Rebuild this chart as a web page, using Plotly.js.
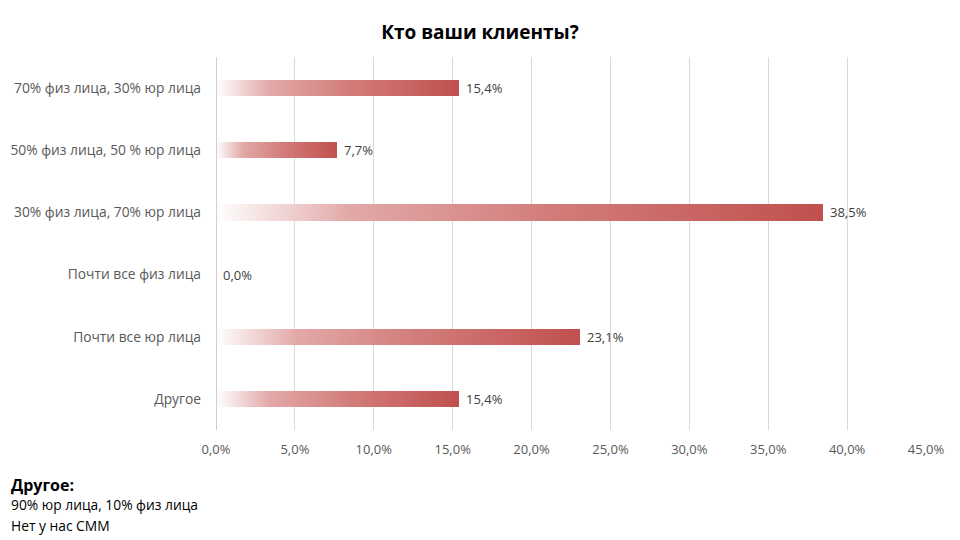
<!DOCTYPE html>
<html>
<head>
<meta charset="utf-8">
<script src="https://cdn.plot.ly/plotly-3.0.1.min.js"></script>
<style>
  html, body { margin: 0; padding: 0; background: #fff; }
  #chart { width: 960px; height: 540px; }
</style>
</head>
<body>
<div id="chart"></div>
<script>
const categories = [
  '70% физ лица, 30% юр лица',
  '50% физ лица, 50 % юр лица',
  '30% физ лица, 70% юр лица',
  'Почти все физ лица',
  'Почти все юр лица',
  'Другое',
];
const shares = [15.4, 7.7, 38.5, 0.0, 23.1, 15.4];
const tickValues = [0, 5, 10, 15, 20, 25, 30, 35, 40, 45];
const tickLabels = tickValues.map((v) => v.toFixed(1).replace('.', ',') + '%');
const noteTitle = 'Другое:';
const noteLines = ['90% юр лица, 10% физ лица', 'Нет у нас СММ'];

const FONT = 'Open Sans, Lato, sans-serif';
const pct = (v) => v.toFixed(1).replace('.', ',') + '%';

// plot area in pixels, used to place the notes below the axis
const PLOT = { l: 216, r: 34, t: 57, b: 110 };
const plotW = 960 - PLOT.l - PLOT.r;
const plotH = 540 - PLOT.t - PLOT.b;
const px2x = (px) => (px - PLOT.l) / plotW;
const px2y = (py) => (540 - PLOT.b - py) / plotH;

const trace = {
  type: 'bar',
  orientation: 'h',
  x: shares,
  y: categories,
  width: 0.26,
  marker: { color: '#C0504D', line: { width: 0 } },
  hoverinfo: 'none',
};

// value labels just right of each bar end
const valueLabels = shares.map((v, i) => ({
  text: pct(v),
  xref: 'x', yref: 'y', x: v, y: categories[i],
  xanchor: 'left', yanchor: 'middle', xshift: 5, yshift: 0,
  showarrow: false,
  font: { family: FONT, size: 13, color: '#404040' },
}));

const layout = {
  width: 960,
  height: 540,
  margin: PLOT,
  paper_bgcolor: '#fff',
  plot_bgcolor: '#fff',
  showlegend: false,
  bargap: 0,
  title: {
    text: '<b>Кто ваши клиенты?</b>',
    font: { family: FONT, size: 19, color: '#000' },
    x: 0.5,
    xanchor: 'center',
    y: 0.94,
    yanchor: 'middle',
  },
  xaxis: {
    range: [0, 45],
    tickvals: tickValues,
    ticktext: tickLabels,
    showgrid: true,
    gridcolor: '#d9d9d9',
    gridwidth: 1,
    zeroline: false,
    showline: false,
    ticks: '',
    ticklabelstandoff: 10,
    tickfont: { family: FONT, size: 13, color: '#595959' },
    fixedrange: true,
  },
  yaxis: {
    autorange: 'reversed',
    showgrid: false,
    zeroline: false,
    showline: false,
    ticks: '',
    ticklabelstandoff: 14,
    tickfont: { family: FONT, size: 13.8, color: '#595959' },
    fixedrange: true,
  },
  shapes: [
    {
      type: 'line', xref: 'x', yref: 'paper',
      x0: 0, x1: 0, y0: 0, y1: 1,
      line: { color: '#bfbfbf', width: 1.5 },
    },
  ],
  annotations: [
    ...valueLabels,
    {
      text: '<b>' + noteTitle + '</b>',
      xref: 'paper', yref: 'paper', x: px2x(9), y: px2y(485),
      xanchor: 'left', yanchor: 'middle', showarrow: false,
      font: { family: FONT, size: 16, color: '#000' },
    },
    ...noteLines.map((line, i) => ({
      text: line,
      xref: 'paper', yref: 'paper', x: px2x(9), y: px2y(505 + i * 20),
      xanchor: 'left', yanchor: 'middle', showarrow: false,
      font: { family: FONT, size: 13.8, color: '#000' },
    })),
  ],
};

Plotly.newPlot('chart', [trace], layout, { displayModeBar: false, staticPlot: true }).then((gd) => {
  // Excel-like gradient fill for each bar (white on the left, red on the right)
  const ns = 'http://www.w3.org/2000/svg';
  const defs = gd.querySelector('svg.main-svg defs');
  const grad = document.createElementNS(ns, 'linearGradient');
  grad.setAttribute('id', 'barGrad');
  grad.setAttribute('x1', '0');
  grad.setAttribute('x2', '1');
  grad.setAttribute('y1', '0');
  grad.setAttribute('y2', '0');
  [
    ['0', '#ffffff'],
    ['0.22', '#e2a9a8'],
    ['0.55', '#d27d7b'],
    ['1', '#C0504D'],
  ].forEach(([off, col]) => {
    const stop = document.createElementNS(ns, 'stop');
    stop.setAttribute('offset', off);
    stop.setAttribute('stop-color', col);
    grad.appendChild(stop);
  });
  defs.appendChild(grad);
  gd.querySelectorAll('.barlayer .point path').forEach((p) => {
    p.style.fill = 'url(#barGrad)';
  });
});
</script>
</body>
</html>
